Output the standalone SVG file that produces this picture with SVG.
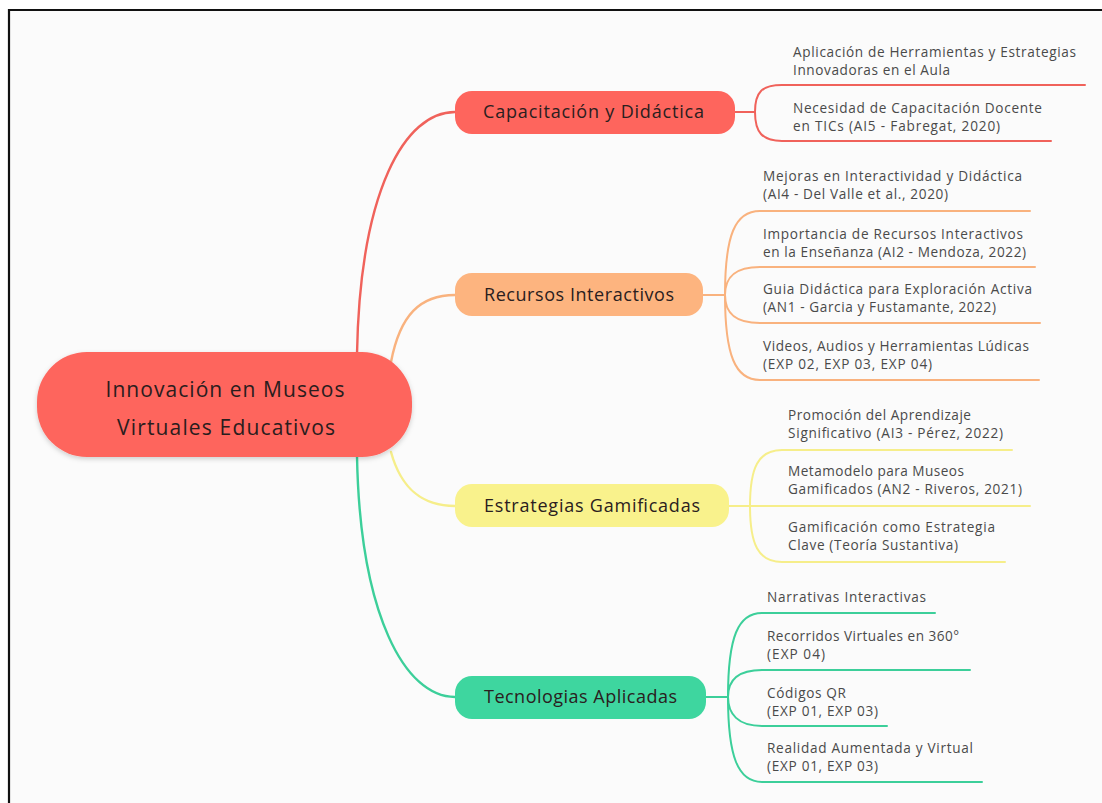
<svg xmlns="http://www.w3.org/2000/svg" width="1102" height="803" viewBox="0 0 1102 803">
  <defs>
    <filter id="shadow" x="-10%" y="-20%" width="120%" height="150%">
      <feDropShadow dx="0" dy="2" stdDeviation="2.5" flood-color="#000" flood-opacity="0.18"/>
    </filter>
  </defs>
  <style>
    .main { font-family: "Open Sans", "Lato", sans-serif; font-size: 21px; fill: #2a1d1d; text-anchor: middle; }
    .branch { font-family: "Open Sans", "Lato", sans-serif; font-size: 18px; fill: #2a2020; }
    .leaf { font-family: "Open Sans", "Lato", sans-serif; font-size: 13.6px; fill: #4a4a4a; }
    .c { fill: none; stroke-linecap: round; }
    .red { stroke: #f0625b; }
    .orange { stroke: #f9b27e; }
    .yellow { stroke: #f6ee8a; }
    .green { stroke: #3ccf9a; }
    .w1 { stroke-width: 2.4; }
    .w2 { stroke-width: 2; }
  </style>

  <!-- page and frame -->
  <rect x="0" y="0" width="1102" height="803" fill="#ffffff"/>
  <rect x="9" y="10" width="1093" height="793" fill="#fbfbfb"/>
  <path d="M9,803 V10 H1102" fill="none" stroke="#111" stroke-width="2.2"/>

  <!-- connectors -->
  <g id="connectors">
    <!-- root to branches -->
    <path class="c red w1" d="M357,354 C360,190 405,112 455,112"/>
    <path class="c orange w1" d="M391,362 C400,315 420,295 455,295"/>
    <path class="c yellow w1" d="M391,452 C402,492 425,506 455,506"/>
    <path class="c green w1" d="M357,456 C360,615 405,697 455,697"/>

    <!-- Capacitación y Didáctica leaves -->
    <path class="c red w2" d="M735,112 H755 C755,92 762,85 782,85 H1085"/>
    <path class="c red w2" d="M755,112 C755,132 762,141 782,141 H1051"/>

    <!-- Recursos Interactivos leaves -->
    <path class="c orange w2" d="M703,295 H725 C725,235 735,211 760,211 H1030"/>
    <path class="c orange w2" d="M725,295 C725,277 735,267 760,267 H1035"/>
    <path class="c orange w2" d="M725,295 C725,313 735,323 760,323 H1040"/>
    <path class="c orange w2" d="M725,295 C725,355 735,380 760,380 H1039"/>

    <!-- Estrategias Gamificadas leaves -->
    <path class="c yellow w2" d="M729,506 H1030"/>
    <path class="c yellow w2" d="M750,506 C750,468 758,450 782,450 H1012"/>
    <path class="c yellow w2" d="M750,506 C750,544 758,562 782,562 H1005"/>

    <!-- Tecnologias Aplicadas leaves -->
    <path class="c green w2" d="M706,697 H728 C728,637 738,613 762,613 H935"/>
    <path class="c green w2" d="M728,697 C728,680 738,670 762,670 H970"/>
    <path class="c green w2" d="M728,697 C728,714 738,726 762,726 H887"/>
    <path class="c green w2" d="M728,697 C728,757 738,782 762,782 H982"/>
  </g>

  <!-- root -->
  <g id="root">
    <rect x="37" y="352" width="375" height="105" rx="50" fill="#fe655d" filter="url(#shadow)"/>
    <text class="main" x="225" y="397" textLength="239">Innovación en Museos</text>
    <text class="main" x="226" y="435" textLength="218">Virtuales Educativos</text>
  </g>

  <!-- branches -->
  <g id="capacitacion">
    <rect x="455" y="91" width="280" height="43" rx="17" fill="#fe655d"/>
    <text class="branch" x="483" y="118" textLength="221">Capacitación y Didáctica</text>
  </g>
  <g id="recursos">
    <rect x="455" y="273" width="248" height="43" rx="17" fill="#fdb47f"/>
    <text class="branch" x="484" y="301" textLength="190">Recursos Interactivos</text>
  </g>
  <g id="estrategias">
    <rect x="455" y="484" width="274" height="43" rx="17" fill="#f9f28c"/>
    <text class="branch" x="484" y="512" textLength="216">Estrategias Gamificadas</text>
  </g>
  <g id="tecnologias">
    <rect x="455" y="676" width="251" height="43" rx="17" fill="#3ed69f"/>
    <text class="branch" x="484" y="703" textLength="193">Tecnologias Aplicadas</text>
  </g>

  <!-- leaves: Capacitación y Didáctica -->
  <g id="leaf-aplicacion">
    <text class="leaf" x="793" y="57" textLength="283">Aplicación de Herramientas y Estrategias</text>
    <text class="leaf" x="793" y="75" textLength="157">Innovadoras en el Aula</text>
  </g>
  <g id="leaf-necesidad">
    <text class="leaf" x="793" y="113" textLength="249">Necesidad de Capacitación Docente</text>
    <text class="leaf" x="793" y="131" textLength="207">en TICs (AI5 - Fabregat, 2020)</text>
  </g>

  <!-- leaves: Recursos Interactivos -->
  <g id="leaf-mejoras">
    <text class="leaf" x="763" y="181" textLength="259">Mejoras en Interactividad y Didáctica</text>
    <text class="leaf" x="763" y="199" textLength="185">(AI4 - Del Valle et al., 2020)</text>
  </g>
  <g id="leaf-importancia">
    <text class="leaf" x="763" y="239" textLength="260">Importancia de Recursos Interactivos</text>
    <text class="leaf" x="763" y="257" textLength="263">en la Enseñanza (AI2 - Mendoza, 2022)</text>
  </g>
  <g id="leaf-guia">
    <text class="leaf" x="763" y="294" textLength="269">Guia Didáctica para Exploración Activa</text>
    <text class="leaf" x="763" y="312" textLength="233">(AN1 - Garcia y Fustamante, 2022)</text>
  </g>
  <g id="leaf-videos">
    <text class="leaf" x="763" y="351" textLength="266">Videos, Audios y Herramientas Lúdicas</text>
    <text class="leaf" x="763" y="369" textLength="169">(EXP 02, EXP 03, EXP 04)</text>
  </g>

  <!-- leaves: Estrategias Gamificadas -->
  <g id="leaf-promocion">
    <text class="leaf" x="788" y="420" textLength="183">Promoción del Aprendizaje</text>
    <text class="leaf" x="788" y="438" textLength="215">Significativo (AI3 - Pérez, 2022)</text>
  </g>
  <g id="leaf-metamodelo">
    <text class="leaf" x="788" y="476" textLength="176">Metamodelo para Museos</text>
    <text class="leaf" x="788" y="494" textLength="234">Gamificados (AN2 - Riveros, 2021)</text>
  </g>
  <g id="leaf-gamificacion">
    <text class="leaf" x="788" y="532" textLength="207">Gamificación como Estrategia</text>
    <text class="leaf" x="788" y="550" textLength="170">Clave (Teoría Sustantiva)</text>
  </g>

  <!-- leaves: Tecnologias Aplicadas -->
  <g id="leaf-narrativas">
    <text class="leaf" x="767" y="602" textLength="159">Narrativas Interactivas</text>
  </g>
  <g id="leaf-recorridos">
    <text class="leaf" x="767" y="641" textLength="192">Recorridos Virtuales en 360°</text>
    <text class="leaf" x="767" y="659" textLength="58">(EXP 04)</text>
  </g>
  <g id="leaf-codigos">
    <text class="leaf" x="767" y="698" textLength="79">Códigos QR</text>
    <text class="leaf" x="767" y="716" textLength="111">(EXP 01, EXP 03)</text>
  </g>
  <g id="leaf-realidad">
    <text class="leaf" x="767" y="753" textLength="206">Realidad Aumentada y Virtual</text>
    <text class="leaf" x="767" y="771" textLength="111">(EXP 01, EXP 03)</text>
  </g>
</svg>
